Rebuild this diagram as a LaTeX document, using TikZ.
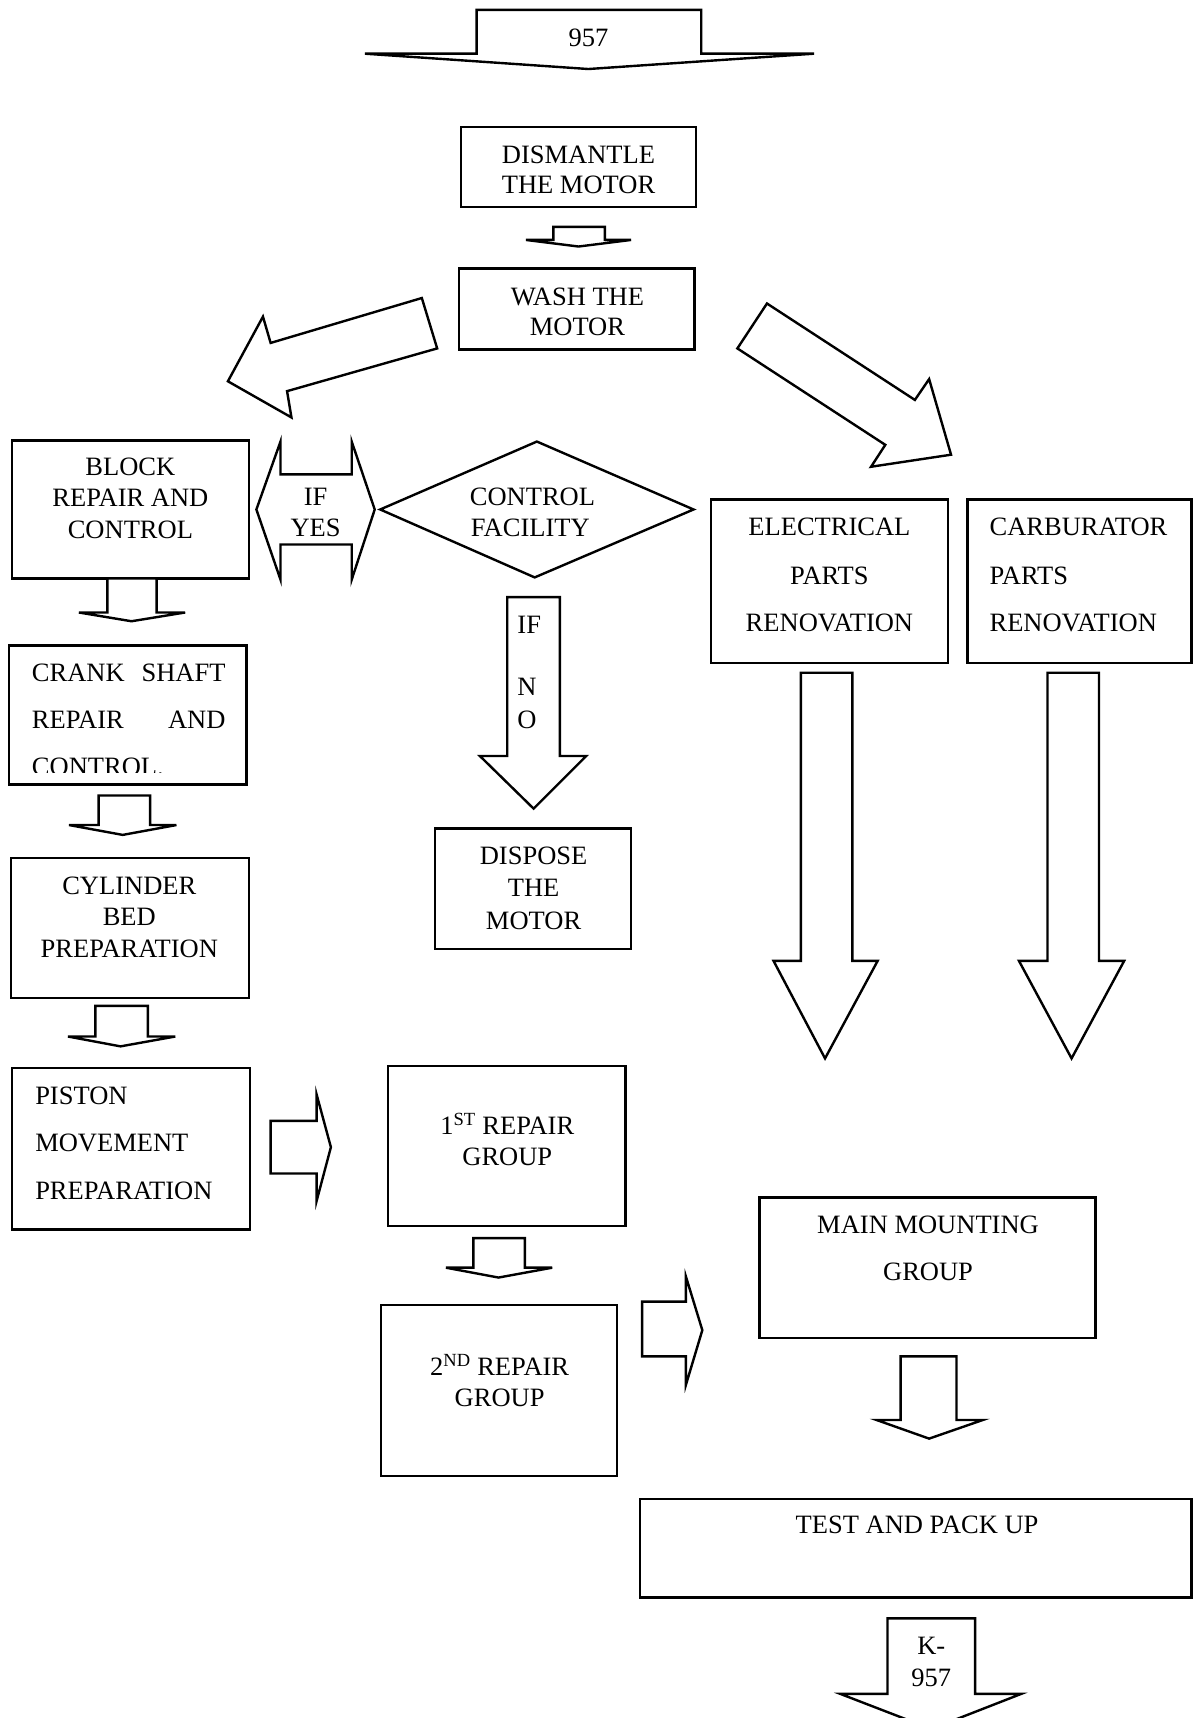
\documentclass[tikz,border=0pt]{standalone}
\usepackage{fontspec}
\setmainfont{Liberation Serif}
\usetikzlibrary{fit}

% block arrow pointing down:
% #1 shaft left, #2 shaft right, #3 shaft top, #4 head base,
% #5 wing left, #6 wing right, #7 tip x, #8 tip y
\newcommand\blockdown[8]{%
  \draw[blk] (#5,#4) -- (#1,#4) -- (#1,#3) -- (#2,#3) -- (#2,#4) -- (#6,#4) -- (#7,#8) -- cycle;}
% block arrow pointing right:
% #1 shaft left, #2 head base x, #3 shaft top, #4 shaft bottom,
% #5 barb top, #6 barb bottom, #7 tip x, #8 tip y
\newcommand\blockright[8]{%
  \draw[blk] (#1,#3) -- (#2,#3) -- (#2,#5) -- (#7,#8) -- (#2,#6) -- (#2,#4) -- (#1,#4) -- cycle;}

\begin{document}
\begin{tikzpicture}[x=1.0955pt,y=-1.0955pt,
  box/.style={draw, line width=2.4pt, inner sep=0pt},
  blk/.style={draw, line width=2.4pt, line join=miter, fill=white},
  txt/.style={anchor=base, inner sep=0pt, yshift=-8.8pt, font=\fontsize{26.5}{30}\selectfont},
  txtl/.style={txt, anchor=base west},
  txtr/.style={txt, anchor=base east}]
\clip (0,0) rectangle (1089,1568);
\fill[white] (0,0) rectangle (1089,1568);

% ---------- boxes ----------
\node[box, fit={(421,116)(635,189)}] (dismantle) {};
\node[box, fit={(419,245)(634,319)}] (wash) {};
\node[box, fit={(11,402)(227,528)}] (block) {};
\node[box, fit={(8,589)(225,716)}] (crank) {};
\node[box, fit={(10,783)(227,911)}] (cylinder) {};
\node[box, fit={(11,975)(228,1122)}] (piston) {};
\node[box, fit={(397,756)(576,866)}] (dispose) {};
\node[box, fit={(649,456)(865,605)}] (electrical) {};
\node[box, fit={(883,456)(1087.5,605)}] (carburator) {};
\node[box, fit={(354,973)(571,1119)}] (repairA) {};
\node[box, fit={(348,1191)(563,1347)}] (repairB) {};
\node[box, fit={(693,1093)(1000,1221)}] (mounting) {};
\node[box, fit={(584,1368)(1087.5,1458)}] (test) {};

% decision diamond
\draw[blk] (347,465) -- (490,403) -- (633,465) -- (488,527) -- cycle;
\coordinate (control) at (490,465);

% ---------- block arrows ----------
\blockdown{435}{640}{9}{49}{333}{743}{537}{63}
\blockdown{505}{552}{207}{219}{480}{576}{528}{225}
\blockdown{98}{143}{528}{559}{72}{169}{120}{567}
\blockdown{90}{137}{726}{753}{63}{161}{112}{762}
\blockdown{87}{135}{918}{946}{62}{160}{110}{955}
\blockdown{432}{479}{1130}{1157}{407}{504}{455}{1166}
\blockdown{822}{873}{1238}{1296}{800}{897}{848}{1313}
\blockdown{810}{890}{1477}{1546}{767}{932}{850}{1578}
\blockdown{463}{511}{545}{690}{438}{535}{487}{738}
\blockdown{731}{778}{614}{877}{706}{801}{753}{966}
\blockdown{956}{1003}{614}{877}{930}{1026}{978}{966}
\blockright{247}{289}{1023}{1071}{999}{1096}{302}{1047}
\blockright{586}{626}{1188}{1238}{1165}{1264}{641}{1214}

% slanted arrows leaving the washing step
\draw[blk] (385,272) -- (247,313) -- (240,289) -- (208,348) -- (266,381) -- (262,357) -- (399,318) -- cycle;
\draw[blk] (700,277) -- (835,365) -- (848,346) -- (868,415) -- (795,426) -- (808,406) -- (673,318) -- cycle;

% double arrow between block repair and the decision
\draw[blk] (234,465) -- (256,403) -- (256,433) -- (321,433) -- (321,403) -- (342,465)
  -- (321,529) -- (321,497) -- (256,497) -- (256,529) -- cycle;

% ---------- texts ----------
\node[txt] (t957) at (537,34) {957};
\node[txt] (dis1) at (528,141) {DISMANTLE};
\node[txt] (dis2) at (528,169) {THE MOTOR};
\node[txt] (was1) at (527,271) {WASH THE};
\node[txt] (was2) at (527,298) {MOTOR};
\node[txt] (yes1) at (288,453) {IF};
\node[txt] (yes2) at (288,482) {YES};
\node[txt] (con1) at (486,453) {CONTROL};
\node[txt] (con2) at (484,482) {FACILITY};
\node[txt] (blo1) at (119,426) {BLOCK};
\node[txt] (blo2) at (119,454) {REPAIR AND};
\node[txt] (blo3) at (119,483) {CONTROL};
\node[txtl] (cra1) at (29,614) {CRANK};
\node[txtr] (cra2) at (206,614) {SHAFT};
\node[txtl] (cra3) at (29,657) {REPAIR};
\node[txtr] (cra4) at (206,657) {AND};
\begin{scope}
  \clip (0,0) rectangle (1089,705);
  \node[txtl] (cra5) at (29,700) {CONTROL.};
\end{scope}
\node[txt] (cyl1) at (118,808) {CYLINDER};
\node[txt] (cyl2) at (118,837) {BED};
\node[txt] (cyl3) at (118,866) {PREPARATION};
\node[txtl] (pis1) at (32,1000) {PISTON};
\node[txtl] (pis2) at (32,1043) {MOVEMENT};
\node[txtl] (pis3) at (32,1087) {PREPARATION};
\node[txt] (no1) at (483,570) {IF};
\node[txt] (no2) at (481,627) {N};
\node[txt] (no3) at (481,657) {O};
\node[txt] (dsp1) at (487,781) {DISPOSE};
\node[txt] (dsp2) at (487,810) {THE};
\node[txt] (dsp3) at (487,840) {MOTOR};
\node[txt] (ele1) at (757,481) {ELECTRICAL};
\node[txt] (ele2) at (757,525) {PARTS};
\node[txt] (ele3) at (757,568) {RENOVATION};
\node[txtl] (car1) at (903,481) {CARBURATOR};
\node[txtl] (car2) at (903,525) {PARTS};
\node[txtl] (car3) at (903,568) {RENOVATION};
\node[txt] (rpa1) at (463,1027) {1\textsuperscript{ST} REPAIR};
\node[txt] (rpa2) at (463,1056) {GROUP};
\node[txt] (rpb1) at (456,1247) {2\textsuperscript{ND} REPAIR};
\node[txt] (rpb2) at (456,1276) {GROUP};
\node[txt] (mnt1) at (847,1118) {MAIN MOUNTING};
\node[txt] (mnt2) at (847,1161) {GROUP};
\node[txt] (tst1) at (837,1392) {TEST AND PACK UP};
\node[txt] (k1) at (850,1502) {K-};
\node[txt] (k2) at (850,1531) {957};
\end{tikzpicture}
\end{document}
